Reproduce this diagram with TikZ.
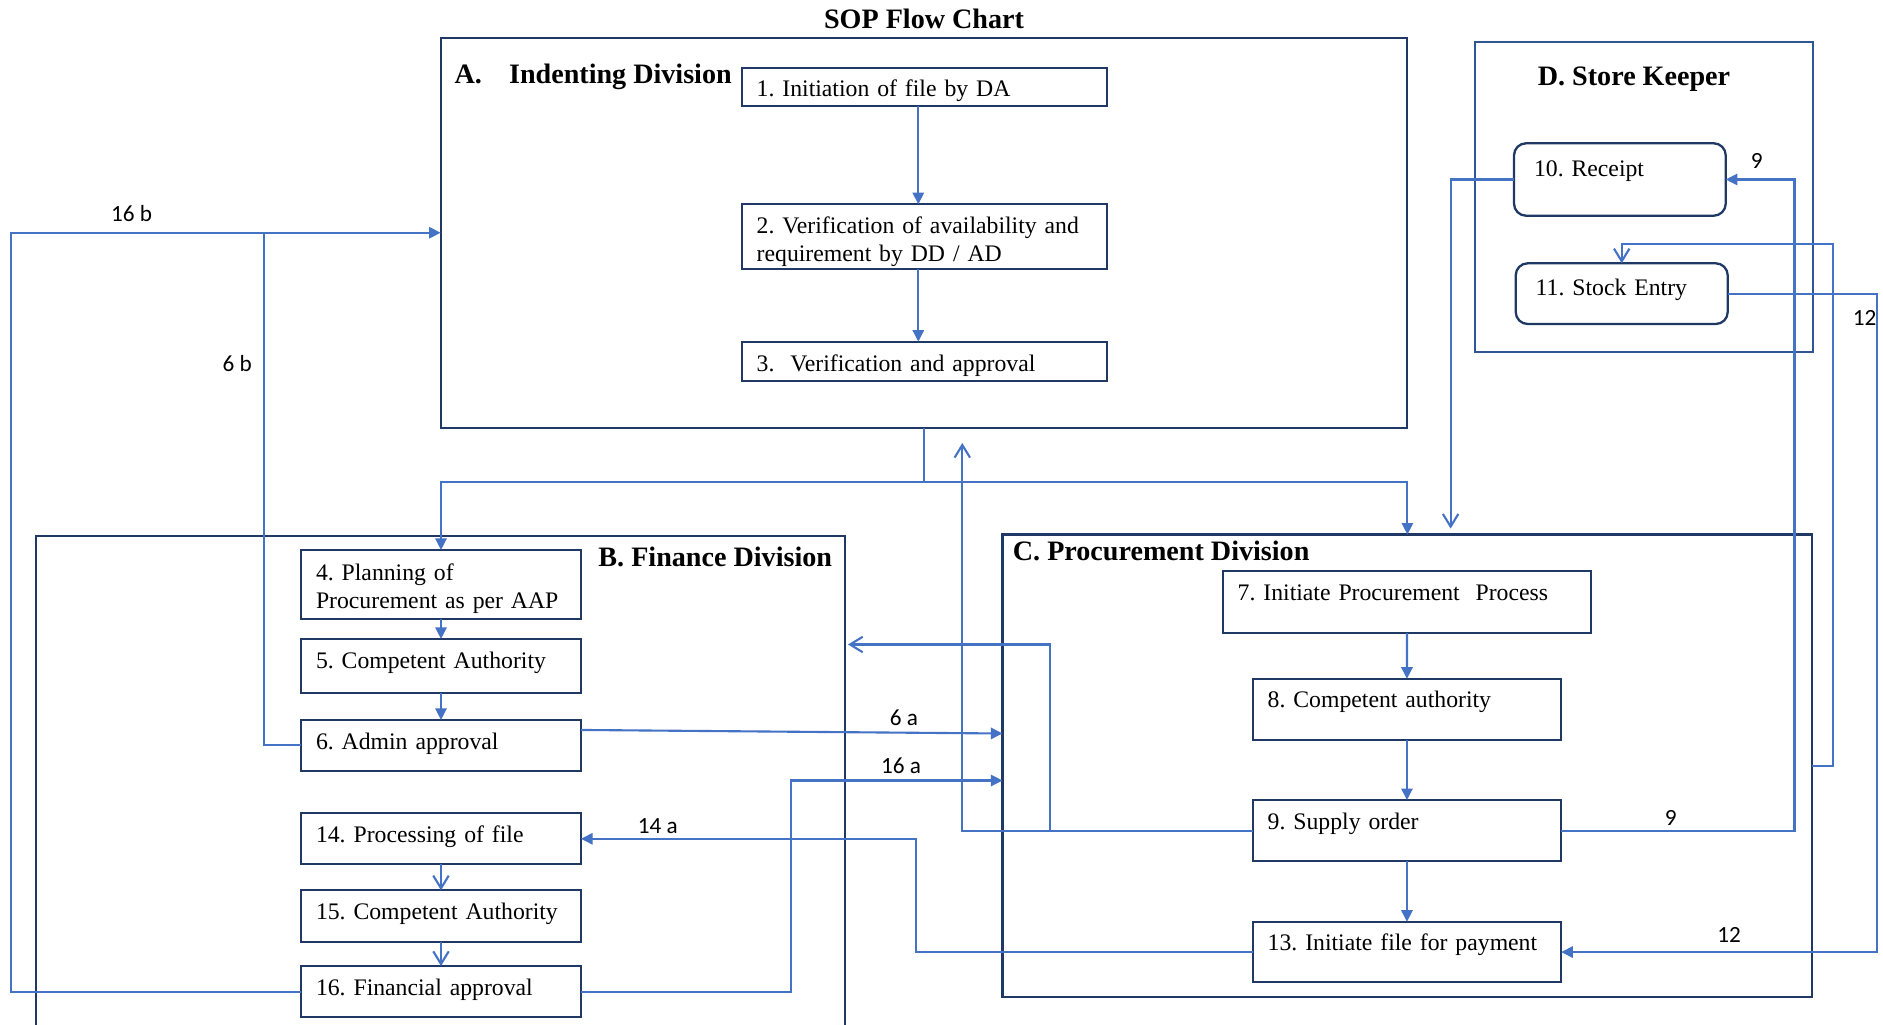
\documentclass[tikz,border=0pt]{standalone}
\usepackage{fontspec}
\setmainfont{Liberation Serif}
\newfontfamily\labelfont{Carlito}
\usetikzlibrary{arrows.meta,calc}
\definecolor{navy}{HTML}{1F3864}
\definecolor{flowblue}{HTML}{4472C4}
\definecolor{storeblue}{HTML}{2F5597}
\frenchspacing
\hyphenpenalty=10000

\tikzset{
	stepbox/.style={draw=navy, line width=0.65pt, anchor=north west, outer sep=0pt,
		inner xsep=0.15cm, inner ysep=0pt, align=left, text height=0.29cm,
		font=\fontsize{6.75}{8.1}\selectfont},
	roundbox/.style={stepbox, rounded corners=0.12cm, inner xsep=0.2cm},
	divbox/.style={draw=navy, line width=0.65pt, inner sep=0pt, outer sep=0pt},
	divlabel/.style={inner sep=0pt, font=\fontsize{8}{9.6}\selectfont\bfseries},
	flowlabel/.style={inner sep=0pt, font=\labelfont\fontsize{6.6}{8}\selectfont},
	flowline/.style={flowblue, line width=0.6pt},
	fillarrow/.style={flowline, -{Triangle[length=3.3pt,width=3.2pt]}},
	openarrow/.style={flowline, -{Straight Barb[length=3.6pt,width=4.4pt]}}
}

\begin{document}
\begin{tikzpicture}
		%\draw[help lines] (0,0) grid (19,11);
		\useasboundingbox (0,0) rectangle (18.83,10.24);

		\node[divlabel, anchor=base] (title) at (9.24,9.957) {SOP Flow Chart};

		% divisions
		\node[divbox, minimum width=9.666cm, minimum height=3.901cm] (A) at (9.24,7.9125) {};
		\node[divbox, minimum width=8.098cm, minimum height=4.624cm] (C) at (14.074,2.582) {};
		\node[divbox, draw=storeblue, minimum width=3.383cm, minimum height=3.094cm] (D) at (16.4415,8.27) {};
		\draw[navy, line width=0.65pt] (0.36,-0.1) |- (8.453,4.883) -- (8.453,-0.1);
		\coordinate (bedge) at (8.48,3.795);

		\node[divlabel, anchor=base west] (alabel) at (4.538,9.407) {\makebox[0.546cm][l]{A.}Indenting Division};
		\node[divlabel, anchor=base east] (blabel) at (8.327,4.58) {B. Finance Division};
		\node[divlabel, anchor=base west] (clabel) at (10.122,4.638) {C. Procurement Division};
		\node[divlabel, anchor=base] (dlabel) at (16.34,9.38) {D. Store Keeper};

		% A. Indenting Division
		\node[stepbox, text width=3.35cm, text depth=0.093cm] (b1) at (7.417,9.563) {1. Initiation of file by DA};
		\node[stepbox, text width=3.35cm, text depth=0.357cm] (b2) at (7.417,8.197) {2. Verification of availability and\\requirement by DD / AD};
		\node[stepbox, text width=3.35cm, text height=0.30cm, text depth=0.093cm] (b3) at (7.417,6.823) {3.~ Verification and approval};

		% B. Finance Division
		\node[stepbox, text width=2.5cm, text height=0.30cm, text depth=0.39cm] (b4) at (3.01,4.74) {4. Planning of\\Procurement as per AAP};
		\node[stepbox, text width=2.5cm, text depth=0.247cm] (b5) at (3.01,3.85) {5. Competent Authority};
		\node[stepbox, text width=2.5cm, text depth=0.217cm] (b6) at (3.01,3.04) {6. Admin approval};
		\node[stepbox, text width=2.5cm, text depth=0.22cm] (b14) at (3.01,2.107) {14. Processing of file};
		\node[stepbox, text width=2.5cm, text depth=0.224cm] (b15) at (3.01,1.337) {15. Competent Authority};
		\node[stepbox, text width=2.5cm, text depth=0.223cm] (b16) at (3.01,0.58) {16. Financial approval};

		% C. Procurement Division
		\node[stepbox, text width=3.386cm, text depth=0.328cm] (b7) at (12.227,4.528) {7. Initiate Procurement~ Process};
		\node[stepbox, text width=2.785cm, text depth=0.322cm] (b8) at (12.527,3.452) {8. Competent authority};
		\node[stepbox, text width=2.785cm, text depth=0.319cm] (b9) at (12.527,2.239) {9. Supply order};
		\node[stepbox, text width=2.785cm, text depth=0.315cm] (b13) at (12.527,1.022) {13. Initiate file for payment};

		% D. Store Keeper
		\node[roundbox, text width=1.717cm, text height=0.334cm, text depth=0.39cm] (b10) at (15.14,8.807) {10. Receipt};
		\node[roundbox, text width=1.72cm, text height=0.324cm, text depth=0.283cm] (b11) at (15.157,7.607) {11. Stock Entry};

		% flow inside divisions
		\draw[fillarrow] ([xshift=-0.059cm]b1.south) -- ([xshift=-0.059cm]b2.north);
		\draw[fillarrow] ([xshift=-0.059cm]b2.south) -- ([xshift=-0.059cm]b3.north);
		\draw[fillarrow] (b4.south) -- (b5.north);
		\draw[fillarrow] (b5.south) -- (b6.north);
		\draw[openarrow] (b14.south) -- (b15.north);
		\draw[openarrow] (b15.south) -- (b16.north);
		\draw[fillarrow] (b7.south) -- (b8.north);
		\draw[fillarrow] (b8.south) -- (b9.north);
		\draw[fillarrow] (b9.south) -- (b13.north);

		% A to B and C
		\coordinate (split) at ($(A.south)+(0,-0.542)$);
		\draw[flowline] (A.south) -- (split);
		\draw[fillarrow] (split) -| (b4.north);
		\draw[fillarrow] (split) -| (C.north);

		% 6 a, 6 b, 16 a, 16 b, 14 a
		\draw[fillarrow] ([yshift=0.154cm]b6.east) -- ([yshift=0.323cm]C.west);
		\draw[flowline] (b6.west) -- ++(-0.366,0) -- ++(0,5.126);
		\draw[fillarrow] (b16.west) -- ++(-2.9,0) |- (A.west);
		\draw[fillarrow] (b16.east) -- ++(2.104,0) |- ([yshift=-0.147cm]C.west);
		\draw[fillarrow] (b13.west) -- ++(-3.367,0) |- (b14.east);

		% supply order
		\draw[openarrow] (b9.west) -- ++(-2.027,0) |- (bedge);
		\draw[openarrow] (b9.west) -- ++(-2.904,0) -- ++(0,3.876);
		\draw[fillarrow] (b9.east) -- ++(2.333,0) |- (b10.east);

		% store keeper
		\draw[openarrow] (b10.west) -- ++(-0.634,0) -- ++(0,-3.491);
		\draw[openarrow] (C.east) -- ++(0.207,0) |- ($(b11.north)+(0,0.193)$) -- (b11.north);
		\draw[fillarrow] (b11.east) -- ++(1.493,0) |- (b13.east);

		\node[flowlabel] (l16b) at (1.317,8.10) {16 b};
		\node[flowlabel] (l6b) at (2.373,6.607) {6 b};
		\node[flowlabel] (l6a) at (9.04,3.06) {6 a};
		\node[flowlabel] (l16a) at (9.01,2.58) {16 a};
		\node[flowlabel] (l14a) at (6.577,1.98) {14 a};
		\node[flowlabel] (l9a) at (16.707,2.065) {9};
		\node[flowlabel] (l9b) at (17.567,8.633) {9};
		\node[flowlabel] (l12a) at (18.645,7.06) {12};
		\node[flowlabel] (l12b) at (17.29,0.89) {12};

\end{tikzpicture}
\end{document}
